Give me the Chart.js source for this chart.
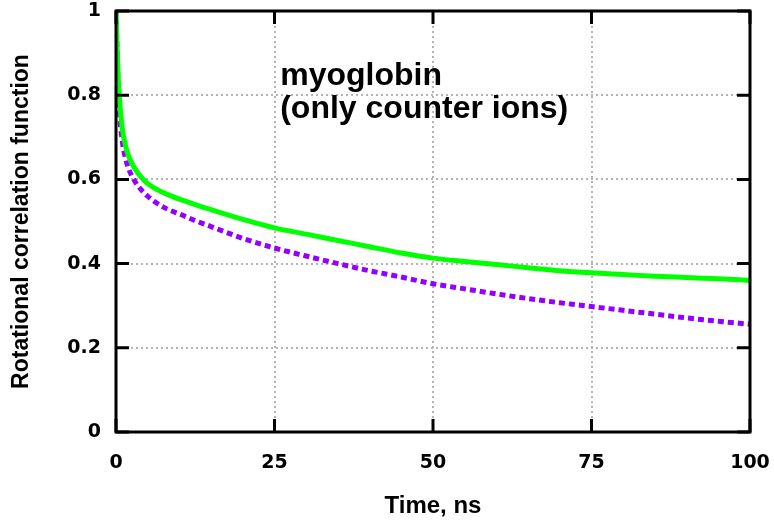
<!DOCTYPE html>
<html>
<head>
<meta charset="utf-8">
<script src="https://cdn.jsdelivr.net/npm/chart.js@4/dist/chart.umd.min.js"></script>
<style>
  body { margin: 0; background: #fff; }
  canvas { display: block; }
</style>
</head>
<body>
<canvas id="rotChart" width="774" height="521"></canvas>
<script>
// Data
const times  = [0, 0.25, 0.5, 1, 1.5, 2, 3, 4, 5, 6, 8, 10, 12.5, 15, 20, 25, 30, 35, 40, 45, 50, 55, 60, 65, 70, 75, 80, 85, 90, 95, 100];
const greenCurve  = [1.0, 0.88, 0.80, 0.72, 0.68, 0.655, 0.625, 0.605, 0.59, 0.58, 0.565, 0.553, 0.54, 0.528, 0.505, 0.485, 0.47, 0.455, 0.44, 0.425, 0.413, 0.405, 0.398, 0.39, 0.383, 0.378, 0.374, 0.37, 0.367, 0.364, 0.36];
const purpleCurve = [1.0, 0.86, 0.77, 0.69, 0.65, 0.625, 0.595, 0.575, 0.56, 0.548, 0.53, 0.518, 0.502, 0.488, 0.46, 0.437, 0.418, 0.40, 0.383, 0.368, 0.352, 0.34, 0.328, 0.317, 0.307, 0.298, 0.289, 0.28, 0.271, 0.263, 0.256];
const xTicks = [0, 25, 50, 75, 100];
const yTicks = [0, 0.2, 0.4, 0.6, 0.8, 1];
const noteLines = ["myoglobin", "(only counter ions)"];

const toPoints = ys => times.map((t, i) => ({ x: t, y: ys[i] }));

// Frame, inward tick marks and the label inside the plot
const framePlugin = {
  id: "frame",
  afterDatasetsDraw(chart) {
    const { ctx, chartArea: a, scales } = chart;
    ctx.save();
    ctx.strokeStyle = "#000";
    ctx.lineWidth = 3;
    const tl = 13;
    ctx.beginPath();
    xTicks.forEach(v => {
      const px = scales.x.getPixelForValue(v);
      ctx.moveTo(px, a.bottom); ctx.lineTo(px, a.bottom - tl);
      ctx.moveTo(px, a.top); ctx.lineTo(px, a.top + tl);
    });
    yTicks.forEach(v => {
      const py = scales.y.getPixelForValue(v);
      ctx.moveTo(a.left, py); ctx.lineTo(a.left + tl, py);
      ctx.moveTo(a.right, py); ctx.lineTo(a.right - tl, py);
    });
    ctx.stroke();
    ctx.strokeRect(a.left, a.top, a.right - a.left, a.bottom - a.top);

    ctx.fillStyle = "#000";
    ctx.font = "bold 32px 'Liberation Sans', Arial, sans-serif";
    ctx.textAlign = "left";
    ctx.textBaseline = "alphabetic";
    const nx = scales.x.getPixelForValue(25.9);
    ctx.fillText(noteLines[0], nx, scales.y.getPixelForValue(0.824));
    ctx.fillText(noteLines[1], nx, scales.y.getPixelForValue(0.745));
    ctx.restore();
  }
};

const tickFont = { family: "'DejaVu Sans', sans-serif", size: 19, weight: "bold" };

new Chart(document.getElementById("rotChart"), {
  type: "line",
  data: {
    datasets: [
      {
        label: "green",
        data: toPoints(greenCurve),
        borderColor: "#00ff00",
        borderWidth: 5,
        pointRadius: 0,
        cubicInterpolationMode: "monotone"
      },
      {
        label: "purple",
        data: toPoints(purpleCurve),
        borderColor: "#9400ff",
        borderWidth: 5,
        borderDash: [6, 4],
        pointRadius: 0,
        cubicInterpolationMode: "monotone"
      }
    ]
  },
  options: {
    responsive: false,
    animation: false,
    layout: { padding: { top: 11, right: 24, left: 0, bottom: 0 } },
    plugins: { legend: { display: false }, tooltip: { enabled: false } },
    scales: {
      x: {
        type: "linear",
        min: 0, max: 100,
        afterBuildTicks: s => { s.ticks = xTicks.map(v => ({ value: v })); },
        afterFit: s => { s.height = 89; s.paddingLeft = 0; s.paddingRight = 0; },
        grid: { color: "#b4b4b4", lineWidth: 2, drawTicks: false },
        border: { display: false, dash: [2, 3] },
        ticks: { color: "#000", font: tickFont, padding: 20, maxRotation: 0 },
        title: {
          display: true, text: "Time, ns", color: "#000",
          font: { family: "'Liberation Sans', Arial, sans-serif", size: 24, weight: "bold" },
          padding: { top: 0, bottom: 0 }
        }
      },
      y: {
        min: 0, max: 1,
        afterBuildTicks: s => { s.ticks = yTicks.map(v => ({ value: v })); },
        afterFit: s => { s.width = 116; s.paddingTop = 0; s.paddingBottom = 0; },
        grid: { color: "#b4b4b4", lineWidth: 2, drawTicks: false },
        border: { display: false, dash: [2, 3] },
        ticks: { color: "#000", font: tickFont, padding: 15, callback: v => String(+v.toFixed(1)) },
        title: {
          display: true, text: "Rotational correlation function", color: "#000",
          font: { family: "'Liberation Sans', Arial, sans-serif", size: 23, weight: "bold" },
          padding: { top: 8, bottom: 0 }
        }
      }
    }
  },
  plugins: [framePlugin]
});
</script>
</body>
</html>
